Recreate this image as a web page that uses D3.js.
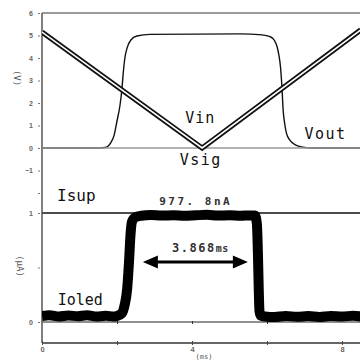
<!DOCTYPE html>
<html>
<head>
<meta charset="utf-8">
<script src="https://cdn.jsdelivr.net/npm/d3@7"></script>
<style>
  body { margin: 0; background: #fff; }
  svg { display: block; }
</style>
</head>
<body>
<svg id="chart" width="360" height="360"></svg>
<script>
// Axis ticks and labels
const timeTicks = [0, 2, 4, 6, 8];
const timeTickLabels = ["0", "", "4", "", "8"];
const voltTicks = [6, 5, 4, 3, 2, 1, 0, -1, -2];
const voltTickLabels = ["6", "5", "4", "3", "2", "1", "0", "\u22121", ""];
const currTicks = [1, 0.5, 0];
const currTickLabels = ["1", "", "0"];

// Upper panel: input sweep (V)
const vinT = [0, 4.27, 8.5];
const vinV = [5.15, 0, 5.25];

// Upper panel: signal reference (V)
const vsigT = [0, 8.5];
const vsigV = [0, 0];

// Upper panel: output (V)
const voutT = [0, 1.55, 1.68, 1.76, 1.84, 1.92, 2.0, 2.08, 2.13, 2.17, 2.21, 2.28, 2.37, 2.53, 2.88,
               5.28, 5.87, 6.08, 6.19, 6.27, 6.32, 6.36, 6.4, 6.43, 6.47, 6.52, 6.61, 6.77, 6.96, 7.2, 8.5];
const voutV = [0, 0, 0.02, 0.08, 0.25, 0.55, 1.2, 1.9, 2.6, 3.4, 4.0, 4.5, 4.8, 4.98, 5.05,
               5.07, 5.03, 4.95, 4.8, 4.5, 4.1, 3.6, 2.65, 1.7, 1.1, 0.65, 0.35, 0.13, 0.04, 0, 0];

// Lower panel: supply current level (uA)
const isupLevel = 1;

// Lower panel: OLED current (uA)
const ioledT = [0, 0.2, 0.45, 0.7, 0.95, 1.2, 1.45, 1.7, 1.9, 2.0, 2.13, 2.2, 2.27, 2.32, 2.36, 2.4, 2.48, 2.65,
                2.9, 3.2, 3.5, 3.8, 4.1, 4.4, 4.7, 5.0, 5.3, 5.55, 5.68, 5.73, 5.76, 5.78, 5.8, 5.83, 5.95,
                6.2, 6.5, 6.8, 7.1, 7.4, 7.7, 8.0, 8.3, 8.5];
const ioledI = [0.055, 0.062, 0.05, 0.06, 0.052, 0.062, 0.05, 0.057, 0.05, 0.056, 0.08, 0.15, 0.3, 0.55, 0.8, 0.92, 0.96, 0.975,
                0.982, 0.976, 0.98, 0.974, 0.979, 0.983, 0.976, 0.98, 0.975, 0.978, 0.978, 0.9, 0.6, 0.3, 0.1, 0.06, 0.05,
                0.045, 0.055, 0.048, 0.054, 0.046, 0.056, 0.05, 0.058, 0.05];

// Pulse-width annotation (arrow ends, in time units) and level annotation
const widthArrow = [2.69, 5.49];
const widthText = "3.868";
const widthUnit = "ms";
const levelText = "977. 8nA";

const svg = d3.select("#chart");

const x = d3.scaleLinear().domain([0, 8]).range([42, 342]);
const yV = d3.scaleLinear().domain([-2, 6]).range([193, 13]);
const yI = d3.scaleLinear().domain([0, 1]).range([322, 213]);

const bottomY = 343;
const fontMono = "'DejaVu Sans Mono', monospace";
const fontTick = "Arial, 'Liberation Sans', sans-serif";

// Clip region for traces
svg.append("clipPath").attr("id", "plot")
  .append("rect").attr("x", 42).attr("y", 10).attr("width", 318).attr("height", 333);

// Top frame line
svg.append("line")
  .attr("x1", 42).attr("x2", 360)
  .attr("y1", yV(6)).attr("y2", yV(6))
  .attr("stroke", "#9a9a9a").attr("stroke-width", 2);

// Isup level line
svg.append("line")
  .attr("x1", 42).attr("x2", 360)
  .attr("y1", yI(isupLevel)).attr("y2", yI(isupLevel))
  .attr("stroke", "#111").attr("stroke-width", 1.5);

// Lower zero line with small ticks
const zeroAxis = svg.append("g")
  .attr("transform", `translate(0,${yI(0)})`)
  .call(d3.axisBottom(x).tickValues([2, 4, 6]).tickSize(2).tickFormat(""));
zeroAxis.select(".domain").attr("stroke", "#222").attr("stroke-width", 1.2).attr("d", `M42,0H360`);
zeroAxis.selectAll(".tick line").attr("stroke", "#333").attr("y1", -1);

// Bottom time axis
const xAxis = svg.append("g")
  .attr("transform", `translate(0,${bottomY})`)
  .call(d3.axisBottom(x).tickValues(timeTicks).tickSize(2)
        .tickFormat((d, i) => timeTickLabels[i]).tickPadding(2));
xAxis.select(".domain").attr("stroke", "#333").attr("stroke-width", 1.5).attr("d", `M42,0H360`);
xAxis.selectAll(".tick line").attr("stroke", "#444").attr("y1", -2).attr("y2", 2);
xAxis.selectAll(".tick text")
  .attr("font-family", fontTick)
  .attr("font-size", 7.5).attr("font-weight", "bold").attr("fill", "#666");

// Left axis line
svg.append("line")
  .attr("x1", 42).attr("x2", 42).attr("y1", 13).attr("y2", bottomY)
  .attr("stroke", "#555").attr("stroke-width", 1.5);

// Voltage axis ticks
const vAxis = svg.append("g")
  .attr("transform", "translate(40,0)")
  .call(d3.axisLeft(yV).tickValues(voltTicks).tickSize(2)
        .tickFormat((d, i) => voltTickLabels[i]).tickPadding(5));
vAxis.select(".domain").remove();
vAxis.selectAll(".tick line").attr("stroke", "#777");
vAxis.selectAll(".tick text")
  .attr("font-family", fontTick)
  .attr("font-size", 7).attr("font-weight", "bold").attr("fill", "#666");

// Current axis ticks
const iAxis = svg.append("g")
  .attr("transform", "translate(40,0)")
  .call(d3.axisLeft(yI).tickValues(currTicks).tickSize(2)
        .tickFormat((d, i) => currTickLabels[i]).tickPadding(5));
iAxis.select(".domain").remove();
iAxis.selectAll(".tick line").attr("stroke", "#777");
iAxis.selectAll(".tick text")
  .attr("font-family", fontTick)
  .attr("font-size", 7).attr("font-weight", "bold").attr("fill", "#666");

// Axis unit labels
svg.append("text")
  .attr("transform", "translate(14,78) rotate(90)")
  .attr("text-anchor", "middle")
  .attr("font-family", fontMono).attr("font-size", 9).attr("fill", "#555")
  .text("(V)");
svg.append("text")
  .attr("transform", "translate(17,266) rotate(90)")
  .attr("text-anchor", "middle")
  .attr("font-family", fontMono).attr("font-size", 9).attr("fill", "#555")
  .text("(\u03bcA)");
svg.append("text")
  .attr("x", x(4) + 12).attr("y", 358.5)
  .attr("text-anchor", "middle")
  .attr("font-family", fontMono).attr("font-size", 7).attr("fill", "#555")
  .text("(ms)");

const plot = svg.append("g").attr("clip-path", "url(#plot)");
const lineOf = (ts, vs, ys) => d3.line().x((d, i) => x(ts[i])).y((d, i) => ys(vs[i]))(ts);
const smoothOf = (ts, vs, ys) => d3.line().curve(d3.curveMonotoneX)
  .x((d, i) => x(ts[i])).y((d, i) => ys(vs[i]))(ts);

// Vout
plot.append("path")
  .attr("d", smoothOf(voutT, voutV, yV))
  .attr("fill", "none").attr("stroke", "#111").attr("stroke-width", 1.4);

// Vsig (zero reference)
plot.append("path")
  .attr("d", lineOf(vsigT, vsigV, yV))
  .attr("fill", "none").attr("stroke", "#9a9a9a").attr("stroke-width", 1.6);

// Vin: double-outlined trace
const vinPath = lineOf(vinT, vinV, yV);
plot.append("path").attr("d", vinPath)
  .attr("fill", "none").attr("stroke", "#111").attr("stroke-width", 5.2);
plot.append("path").attr("d", vinPath)
  .attr("fill", "none").attr("stroke", "#fff").attr("stroke-width", 1.6);

// Ioled
plot.append("path")
  .attr("d", smoothOf(ioledT, ioledI, yI))
  .attr("fill", "none").attr("stroke", "#000").attr("stroke-width", 10)
  .attr("stroke-linejoin", "round");

// Series labels
const label = (txt, tx, ty, size, spacing) => svg.append("text")
  .attr("x", tx).attr("y", ty)
  .attr("font-family", fontMono).attr("font-size", size)
  .attr("letter-spacing", spacing).attr("fill", "#111").text(txt);

label("Vin", x(3.82), yV(1.1), 15, 1);
label("Vout", x(7.0), yV(0.38), 15, 1.5);
label("Vsig", x(3.67), yV(-0.76), 15, 1.5);
label("Isup", x(0.4), yI(1.11), 16, 0);
label("Ioled", x(0.42), yI(0.16), 15, 0);

// Level annotation
svg.append("text")
  .attr("x", x(4.1)).attr("y", yI(1.07))
  .attr("text-anchor", "middle")
  .attr("font-family", fontMono).attr("font-size", 11).attr("font-weight", "bold")
  .attr("letter-spacing", 2.5).attr("fill", "#333")
  .text(levelText);

// Pulse-width arrow
const arrowY = yI(0.55);
const ax1 = x(widthArrow[0]), ax2 = x(widthArrow[1]);
svg.append("line")
  .attr("x1", ax1 + 10).attr("x2", ax2 - 10).attr("y1", arrowY).attr("y2", arrowY)
  .attr("stroke", "#000").attr("stroke-width", 3);
svg.append("path")
  .attr("d", `M${ax1},${arrowY}L${ax1 + 15},${arrowY - 6.5}L${ax1 + 15},${arrowY + 6.5}Z`)
  .attr("fill", "#000");
svg.append("path")
  .attr("d", `M${ax2},${arrowY}L${ax2 - 15},${arrowY - 6.5}L${ax2 - 15},${arrowY + 6.5}Z`)
  .attr("fill", "#000");

const wt = svg.append("text")
  .attr("x", (ax1 + ax2) / 2 + 5).attr("y", yI(0.64))
  .attr("text-anchor", "middle")
  .attr("font-family", fontMono).attr("fill", "#333");
wt.append("tspan").attr("font-size", 12).attr("font-weight", "bold").attr("letter-spacing", 1.5).text(widthText);
wt.append("tspan").attr("font-size", 10).attr("font-weight", "bold").attr("letter-spacing", 0.5).text(widthUnit);
</script>
</body>
</html>
